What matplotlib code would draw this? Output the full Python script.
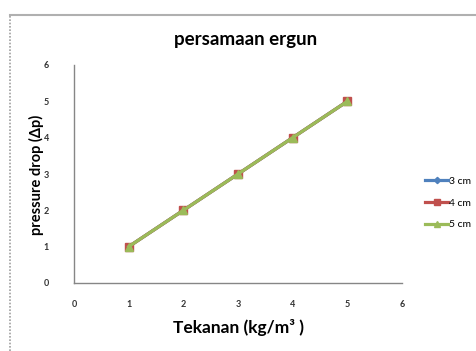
import matplotlib
matplotlib.use('Agg')
import matplotlib.pyplot as plt
from matplotlib.lines import Line2D

# data
tekanan   = [1, 2, 3, 4, 5]
dp_3cm    = [1, 2, 3, 4, 5]
dp_4cm    = [1, 2, 3, 4, 5]
dp_5cm    = [1, 2, 3, 4, 5]
labels    = ['3 cm', '4 cm', '5 cm']
xticks    = [0, 1, 2, 3, 4, 5, 6]
yticks    = [0, 1, 2, 3, 4, 5, 6]

plt.rcParams['font.family'] = ['Lato', 'DejaVu Sans']

W, H = 477, 351
fig = plt.figure(figsize=(W/100., H/100.), dpi=100)
ax  = fig.add_axes([74./W, 1-283./H, (402.-74.)/W, (283.-65.)/H])

# chart frame (top solid, left dotted)
fig.add_artist(Line2D([10./W, 1.], [1-14.5/H, 1-14.5/H], color='#b0b0b0', lw=1.5, transform=fig.transFigure))
fig.add_artist(Line2D([10./W, 10./W], [0, 1-14.5/H], color='#a0a0a0', lw=1.2, ls=(0, (1, 1)), transform=fig.transFigure))

ax.plot(tekanan, dp_3cm, color='#4F81BD', marker='D', ms=4, lw=2.3, label=labels[0])
ax.plot(tekanan, dp_4cm, color='#C0504D', marker='s', ms=6, lw=2.3, label=labels[1])
ax.plot(tekanan, dp_5cm, color='#9BBB59', marker='^', ms=6, lw=2.3, label=labels[2])

ax.set_xlim(0, 6); ax.set_ylim(0, 6)
ax.set_xticks(xticks); ax.set_yticks(yticks)
for s in ['top', 'right']: ax.spines[s].set_visible(False)
for s in ['left', 'bottom']:
	ax.spines[s].set_color('#868686'); ax.spines[s].set_linewidth(1)
ax.tick_params(length=0, labelsize=6.5, pad=12, colors='#333333')
ax.tick_params(axis='y', pad=18)
for t in ax.get_xticklabels()+ax.get_yticklabels(): t.set_fontweight('bold')

fig.text(246./W, 1-40./H, 'persamaan ergun', ha='center', va='center', fontsize=13.5, fontweight='bold')
fig.text(239./W, 1-327./H, 'Tekanan (kg/m³ )', ha='center', va='center', fontsize=12.5, fontweight='bold')
fig.text(36./W, 1-175./H, 'pressure drop (Δp)', ha='center', va='center', rotation=90, fontsize=10.5, fontweight='bold')

ax.legend(loc='center left', bbox_to_anchor=(416./W, 1-203./H), bbox_transform=fig.transFigure,
		  frameon=False, fontsize=7.5, handlelength=2.2, labelspacing=1.2, handletextpad=0.1, markerscale=0.8)

fig.savefig('out.png', dpi=100)
